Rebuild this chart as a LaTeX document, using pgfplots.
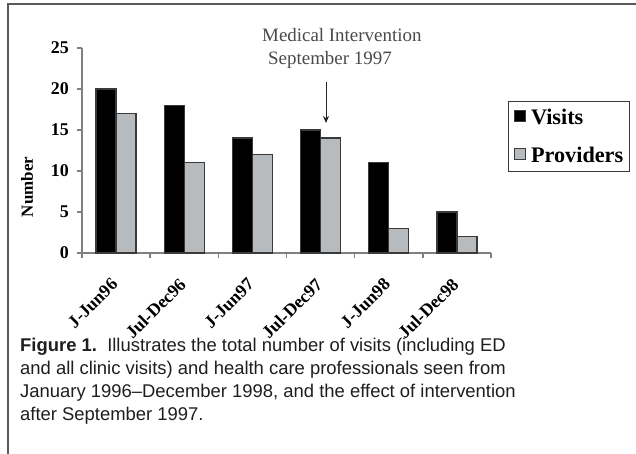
\documentclass[border=0pt]{standalone}
\usepackage{fontspec}
\setmainfont{Liberation Serif}
\newfontfamily\capfont{Liberation Sans}
\usepackage{pgfplots}
\pgfplotsset{compat=1.18}
\usetikzlibrary{arrows.meta}
\definecolor{axisgray}{HTML}{808080}
\definecolor{provgray}{HTML}{B7BBBD}
\definecolor{edgegray}{HTML}{3A3A3A}
\definecolor{framegray}{HTML}{5A5A5A}
\definecolor{annogray}{HTML}{4A4A4A}
\definecolor{capcol}{HTML}{1E1E1E}
\begin{document}
\begin{tikzpicture}
\useasboundingbox (-82bp,-201bp) rectangle (554bp,253bp);
\draw[framegray, line width=2.2bp] (-73.7bp,-203bp) -- (-73.7bp,249bp) -- (556bp,249bp);
\begin{axis}[
  at={(0,0)}, anchor=south west,
  scale only axis, width=409bp, height=205bp,
  xmin=-0.5, xmax=5.5, ymin=0, ymax=25,
  axis x line*=bottom, axis y line*=left,
  axis line style={axisgray, line width=1.6bp},
  ybar=0pt, bar width=20bp,
  ytick={0,5,...,25},
  xtick={-0.5,0.5,1.5,2.5,3.5,4.5,5.5},
  xticklabels={},
  extra x ticks={0,1,2,3,4,5},
  extra x tick labels={J-Jun96,Jul-Dec96,J-Jun97,Jul-Dec97,J-Jun98,Jul-Dec98},
  extra x tick style={major tick length=0pt},
  tick align=outside, major tick length=5bp,
  tick style={axisgray, line width=1.4bp},
  /pgf/number format/assume math mode=true,
  yticklabel style={font=\fontsize{18}{18}\selectfont\bfseries, inner sep=0pt, xshift=-8bp},
  xticklabel style={font=\fontsize{18}{18}\selectfont\bfseries, rotate=45, anchor=east, inner sep=0pt, xshift=-21bp, yshift=-19bp},
  legend style={at={(axis description cs:1.0415,0.742)}, anchor=north west, draw=edgegray, line width=1.4bp,
    font=\fontsize{22.3}{22.3}\selectfont\bfseries, inner xsep=5bp, inner ysep=6bp,
    nodes={inner sep=1.5bp}, row sep=18bp,
    /tikz/every odd column/.append style={column sep=4bp}},
  legend cell align=left,
  legend image code/.code={\draw[#1, line width=0.9bp] (0bp,-4bp) rectangle (11bp,7bp);},
]
\addplot[fill=black, draw=edgegray, line width=1.4bp] coordinates {(0,20) (1,18) (2,14) (3,15) (4,11) (5,5)};
\addplot[fill=provgray, draw=edgegray, line width=1.4bp] coordinates {(0,17) (1,11) (2,12) (3,14) (4,3) (5,2)};
\legend{Visits,Providers}
\end{axis}
\node[rotate=90, font=\fontsize{17}{17}\selectfont\bfseries, inner sep=0pt] at (-55bp,66bp) {Number};
\node[annogray, font=\fontsize{19}{19}\selectfont, anchor=base west, inner sep=0pt] at (180bp,211bp) {Medical Intervention};
\node[annogray, font=\fontsize{19}{19}\selectfont, anchor=base west, inner sep=0pt] at (186bp,188bp) {September 1997};
\draw[-{Stealth[length=7bp,width=6bp]}, black!85, line width=0.8bp] (244bp,171bp) -- (244bp,130bp);
\begin{scope}[every node/.style={anchor=base west, inner sep=0pt, text=capcol, font=\capfont\fontsize{18.5}{18.5}\selectfont}]
\node at (-62bp,-98bp) {\textbf{Figure 1.}\ \ Illustrates the total number of visits (including ED};
\node at (-62bp,-121bp) {and all clinic visits) and health care professionals seen from};
\node at (-62bp,-144bp) {January 1996–December 1998, and the effect of intervention};
\node at (-62bp,-167bp) {after September 1997.};
\end{scope}
\end{tikzpicture}
\end{document}
